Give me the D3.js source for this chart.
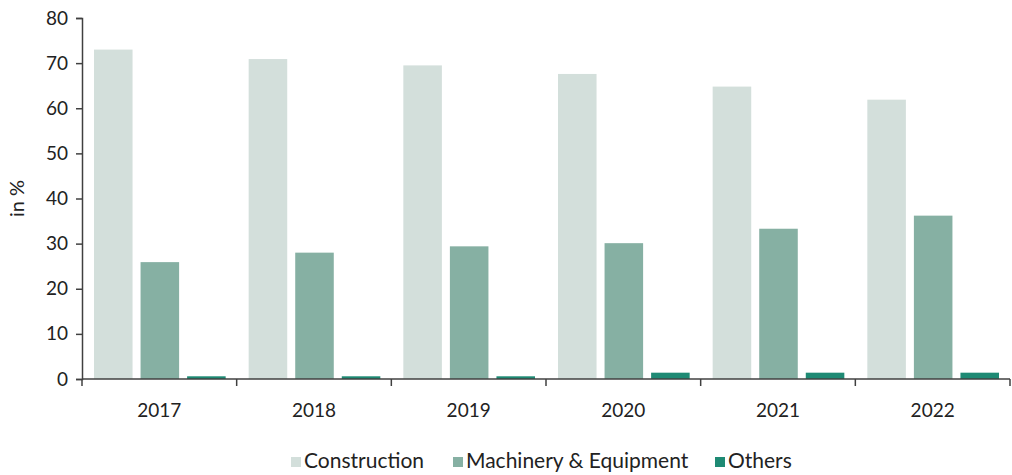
<!DOCTYPE html>
<html>
<head>
<meta charset="utf-8">
<script src="https://cdn.jsdelivr.net/npm/d3@7"></script>
<style>
  body { margin: 0; background: #fff; }
  svg text { font-family: Lato, "Noto Sans", sans-serif; fill: #222; }
</style>
</head>
<body>
<svg id="chart" width="1012" height="475"></svg>
<script>
var years = ['2017', '2018', '2019', '2020', '2021', '2022'];
var seriesNames = ['Construction', 'Machinery & Equipment', 'Others'];
var construction = [73.0, 70.9, 69.5, 67.6, 64.8, 61.9];
var machinery = [25.9, 28.0, 29.4, 30.1, 33.3, 36.2];
var others = [0.6, 0.6, 0.6, 1.4, 1.4, 1.4];
var yTicks = [0, 10, 20, 30, 40, 50, 60, 70, 80];
var colors = ['#d3dfdb', '#86b0a3', '#1e8a74'];

var svg = d3.select('#chart'),
    plotLeft = 82, plotRight = 1010, plotTop = 18, plotBottom = 379;

var values = [construction, machinery, others];

var x0 = d3.scaleBand().domain(years).range([plotLeft, plotRight]);
var bw = x0.bandwidth();
var x1 = d3.scaleBand().domain(seriesNames).range([12, bw - 11]).paddingInner(0.172);
var y = d3.scaleLinear().domain([0, 80]).range([plotBottom, plotTop]);

// bars
years.forEach(function(yr, i) {
  var g = svg.append('g').attr('transform', 'translate(' + x0(yr) + ',0)');
  seriesNames.forEach(function(s, j) {
    var v = values[j][i];
    g.append('rect')
      .attr('x', x1(s))
      .attr('y', y(v))
      .attr('width', x1.bandwidth())
      .attr('height', y(0) - y(v))
      .attr('fill', colors[j]);
  });
});

// y axis
var yAxis = svg.append('g')
  .attr('transform', 'translate(' + plotLeft + ',0)')
  .call(d3.axisLeft(y).tickValues(yTicks).tickSize(6).tickPadding(8));
yAxis.selectAll('text').style('font-size', '19px');
yAxis.select('.domain').attr('stroke', '#404040').attr('stroke-width', 1.5);
yAxis.selectAll('.tick line').attr('stroke', '#404040').attr('stroke-width', 1.5);

// x axis with ticks at band boundaries
var xAxis = svg.append('g').attr('transform', 'translate(0,' + plotBottom + ')');
xAxis.append('line').attr('x1', plotLeft).attr('x2', plotRight)
  .attr('stroke', '#404040').attr('stroke-width', 1.5);
years.concat(['end']).forEach(function(yr, i) {
  var xx = i < years.length ? x0(yr) : plotRight;
  xAxis.append('line').attr('x1', xx).attr('x2', xx).attr('y1', 0).attr('y2', 7)
    .attr('stroke', '#404040').attr('stroke-width', 1.5);
});
years.forEach(function(yr) {
  xAxis.append('text')
    .attr('x', x0(yr) + bw / 2)
    .attr('y', 38)
    .attr('text-anchor', 'middle')
    .style('font-size', '19px')
    .text(yr);
});

// y label
svg.append('text')
  .attr('transform', 'translate(24,' + ((plotTop + plotBottom) / 2) + ') rotate(-90)')
  .attr('text-anchor', 'middle')
  .style('font-size', '20px')
  .text('in %');

// legend
var legendX = [291, 453, 715];
seriesNames.forEach(function(s, j) {
  svg.append('rect').attr('x', legendX[j]).attr('y', 457)
    .attr('width', 10).attr('height', 10).attr('fill', colors[j]);
  svg.append('text').attr('x', legendX[j] + 13).attr('y', 468)
    .style('font-size', '21px').text(s);
});
</script>
</body>
</html>
